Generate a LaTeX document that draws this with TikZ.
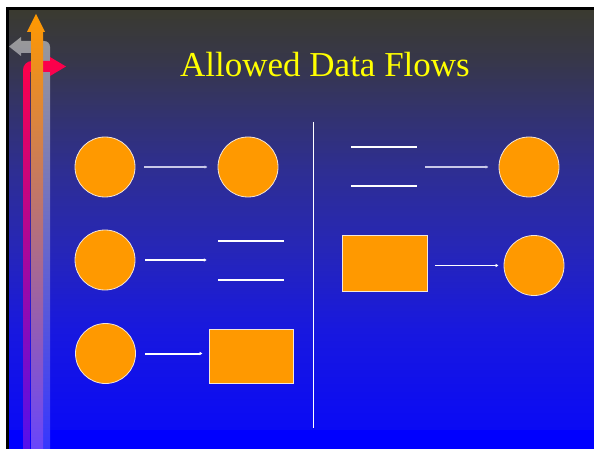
\documentclass[tikz,border=0pt]{standalone}
\usepackage{fontspec}
\setmainfont{Liberation Serif}
\usetikzlibrary{arrows.meta}

% slide background tones, top to bottom
\definecolor{bgA}{HTML}{3A3A30}
\definecolor{bgB}{HTML}{37374A}
\definecolor{bgC}{HTML}{33336C}
\definecolor{bgD}{HTML}{2E2E92}
\definecolor{bgE}{HTML}{2626B8}
\definecolor{bgF}{HTML}{1818DF}
\definecolor{bgG}{HTML}{0A0AF5}
\definecolor{bgH}{HTML}{0000FF}
% shapes and logo
\definecolor{fillorange}{HTML}{FF9900}
\definecolor{rim}{HTML}{F4E6D8}
\definecolor{thinline}{HTML}{C8C8E8}
\definecolor{titleyellow}{HTML}{FFFF00}

\tikzset{
  proc/.style={circle, minimum size=60pt, inner sep=0pt, fill=fillorange, draw=rim, line width=0.8pt},
  entity/.style={rectangle, inner sep=0pt, fill=fillorange, draw=rim, line width=0.8pt},
  store/.style={rectangle, inner sep=0pt, minimum width=66pt, minimum height=39pt},
  storeline/.style={draw=white, line width=2pt},
  thinflow/.style={draw=thinline, line width=1.1pt, -{Latex[length=3pt,width=3.4pt]}},
  boldflow/.style={draw=white, line width=2pt, -{Latex[length=3pt,width=3.6pt]}},
  divider/.style={draw=white, line width=0.9pt},
}

\begin{document}
\begin{tikzpicture}[x=1pt,y=-1pt]
\useasboundingbox (0,0) rectangle (594,449);
% page margin and under-layer
\fill[bgH] (0,0) rectangle (600,455);
\fill[white] (0,0) rectangle (600,7);
\fill[white] (0,0) rectangle (6,455);

% background gradient in bands
\shade[top color=bgA, bottom color=bgB] (9,10) rectangle (600,60.5);
\shade[top color=bgB, bottom color=bgC] (9,60) rectangle (600,110.5);
\shade[top color=bgC, bottom color=bgD] (9,110) rectangle (600,170.5);
\shade[top color=bgD, bottom color=bgE] (9,170) rectangle (600,250.5);
\shade[top color=bgE, bottom color=bgF] (9,250) rectangle (600,330.5);
\shade[top color=bgF, bottom color=bgG] (9,330) rectangle (600,430.5);
\fill[bgH] (9,430) rectangle (600,455);

% slide frame along top and left
\fill[black] (6,7) rectangle (600,10);
\fill[black] (6,7) rectangle (9,455);

% logo: grey arrow turning left
\shade[top color=black!40, middle color={rgb,255:red,136;green,136;blue,200}, bottom color={rgb,255:red,53;green,53;blue,255}]
  (43,455) -- (43,53) -- (21,53) -- (21,56) -- (9,46.5) -- (21,37) -- (21,41) -- (44,41)
  .. controls (47.5,41) and (50,43.5) .. (50,47) -- (50,455) -- cycle;
% logo: red arrow turning right
\shade[top color={rgb,255:red,255;green,0;blue,72}, middle color={rgb,255:red,200;green,16;blue,156}, bottom color={rgb,255:red,80;green,16;blue,240}]
  (23,455) -- (23,70) .. controls (23,65) and (27,61) .. (32,61) -- (50,61) -- (50,57)
  -- (66,66.5) -- (50,76) -- (50,72) -- (30,72) -- (30,455) -- cycle;
% logo: orange arrow pointing up
\shade[top color=fillorange, middle color={rgb,255:red,232;green,150;blue,130}, bottom color={rgb,255:red,102;green,68;blue,255}]
  (31,455) -- (31,32) -- (27,32) -- (36,14) -- (45,32) -- (43,32) -- (43,455) -- cycle;

% title
\node[anchor=base, text=titleyellow, font=\fontsize{35}{40}\selectfont, inner sep=0pt] (title) at (325,77) {Allowed Data Flows};

% divider
\coordinate (dtop) at (313,122);
\coordinate (dbot) at (313,428);
\draw[divider] (dtop) -- (dbot);

% left column
\node[proc] (c1) at (105,167) {};
\node[proc] (c2) at (248,167) {};
\node[proc] (c3) at (105,260) {};
\node[store] (s1) at (251,260.5) {};
\node[proc] (c4) at (105.5,353.5) {};
\node[entity, minimum width=84pt, minimum height=54pt] (r1) at (251,356) {};

% right column
\node[store] (s2) at (384,166.5) {};
\node[proc] (c5) at (529,167) {};
\node[entity, minimum width=85pt, minimum height=56pt] (r2) at (384.5,263) {};
\node[proc] (c6) at (534,265.5) {};

% data store bars
\draw[storeline] (s1.north west) -- (s1.north east);
\draw[storeline] (s1.south west) -- (s1.south east);
\draw[storeline] (s2.north west) -- (s2.north east);
\draw[storeline] (s2.south west) -- (s2.south east);

% flows
\draw[thinflow, shorten <=9pt, shorten >=10pt] (c1) -- (c2);
\draw[boldflow, shorten <=10pt, shorten >=11pt] (c3) -- (c3 -| s1.west);
\draw[boldflow, shorten <=9pt, shorten >=6pt] (c4) -- (c4 -| r1.west);
\draw[thinflow, shorten <=8pt, shorten >=10pt] (s2.east |- c5) -- (c5);
\draw[boldflow, line width=1.5pt, shorten <=8pt, shorten >=5pt] (r2.east |- c6) -- (c6);
\end{tikzpicture}
\end{document}
